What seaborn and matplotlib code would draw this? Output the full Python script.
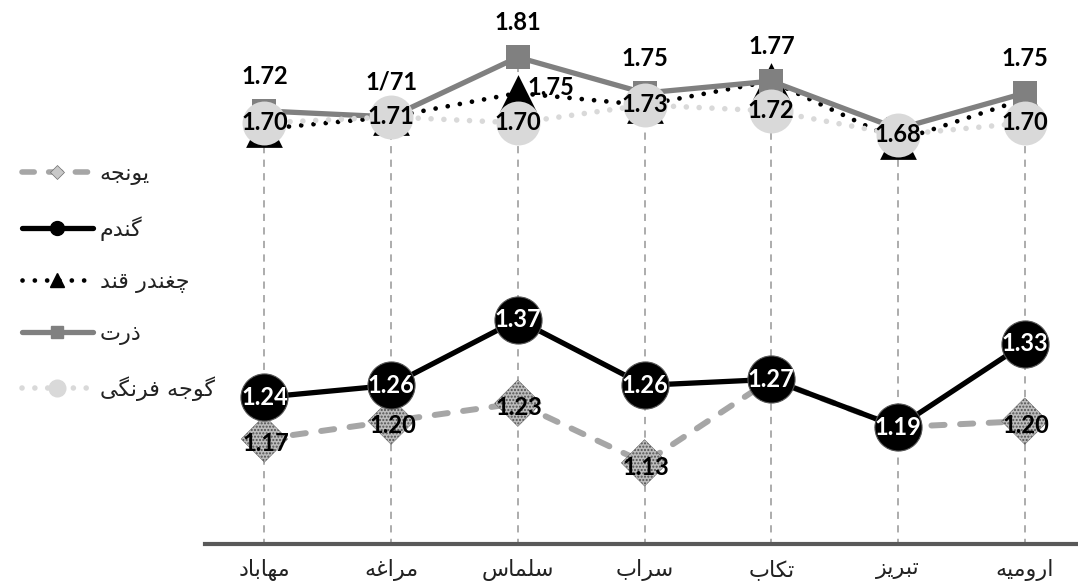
import numpy as np
import pandas as pd
import seaborn as sns
from matplotlib import pyplot as plt
from matplotlib.lines import Line2D

# values
cities = ['مهاباد', 'مراغه', 'سلماس', 'سراب', 'تکاب', 'تبریز', 'ارومیه']
alfalfa = [1.17, 1.20, 1.23, 1.13, 1.27, 1.19, 1.20]
wheat = [1.24, 1.26, 1.37, 1.26, 1.27, 1.19, 1.33]
sugar_beet = [1.69, 1.71, 1.75, 1.73, 1.77, 1.67, 1.74]
corn = [1.72, 1.71, 1.81, 1.75, 1.77, 1.69, 1.75]
tomato = [1.70, 1.71, 1.70, 1.73, 1.72, 1.68, 1.70]
# labels that are visible in the chart (others are hidden behind markers)
alfalfa_labels = ['1.17', '1.20', '1.23', '1.13', '', '', '1.20']
corn_labels = ['1.72', '1/71', '1.81', '1.75', '1.77', '', '1.75']
sugar_labels = ['', '', '1.75', '', '', '', '']
names = ['یونجه', 'گندم', 'چغندر قند', 'ذرت', 'گوجه فرنگی']

# matplotlib has no arabic shaping, so pick presentation forms by hand
# (isolated, final, initial, medial); None = letter does not join forward
FORMS = {
    'ا': ('\uFE8D', '\uFE8E', None, None),
    'ب': ('\uFE8F', '\uFE90', '\uFE91', '\uFE92'),
    'ت': ('\uFE95', '\uFE96', '\uFE97', '\uFE98'),
    'ج': ('\uFE9D', '\uFE9E', '\uFE9F', '\uFEA0'),
    'چ': ('\uFB7A', '\uFB7B', '\uFB7C', '\uFB7D'),
    'د': ('\uFEA9', '\uFEAA', None, None),
    'ذ': ('\uFEAB', '\uFEAC', None, None),
    'ر': ('\uFEAD', '\uFEAE', None, None),
    'ز': ('\uFEAF', '\uFEB0', None, None),
    'س': ('\uFEB1', '\uFEB2', '\uFEB3', '\uFEB4'),
    'غ': ('\uFECD', '\uFECE', '\uFECF', '\uFED0'),
    'ف': ('\uFED1', '\uFED2', '\uFED3', '\uFED4'),
    'ق': ('\uFED5', '\uFED6', '\uFED7', '\uFED8'),
    'ک': ('\uFB8E', '\uFB8F', '\uFB90', '\uFB91'),
    'گ': ('\uFB92', '\uFB93', '\uFB94', '\uFB95'),
    'ل': ('\uFEDD', '\uFEDE', '\uFEDF', '\uFEE0'),
    'م': ('\uFEE1', '\uFEE2', '\uFEE3', '\uFEE4'),
    'ن': ('\uFEE5', '\uFEE6', '\uFEE7', '\uFEE8'),
    'ه': ('\uFEE9', '\uFEEA', '\uFEEB', '\uFEEC'),
    'و': ('\uFEED', '\uFEEE', None, None),
    'ی': ('\uFBFC', '\uFBFD', '\uFBFE', '\uFBFF'),
}


def shape(text):
    out = []
    for i, c in enumerate(text):
        if c not in FORMS:
            out.append(c)
            continue
        iso, fin, ini, med = FORMS[c]
        prev = text[i - 1] if i > 0 else None
        nxt = text[i + 1] if i + 1 < len(text) else None
        jp = prev in FORMS and FORMS[prev][2] is not None
        jn = ini is not None and nxt in FORMS
        if jp and jn:
            out.append(med)
        elif jp:
            out.append(fin)
        elif jn:
            out.append(ini)
        else:
            out.append(iso)
    return ''.join(reversed(out))


sns.set_style('white')
plt.rcParams['font.family'] = ['DejaVu Sans']

LBL = dict(ha='center', va='center', fontsize=17, fontweight='bold', family='Lato')

x = np.arange(len(cities))
df = pd.DataFrame({'x': x, 'alfalfa': alfalfa, 'wheat': wheat,
                   'sugar_beet': sugar_beet, 'corn': corn, 'tomato': tomato})

fig = plt.figure(figsize=(10.78, 5.86), dpi=100)
ax = fig.add_axes([0.19, 0.0717, 0.81, 0.9283])

# drop lines from the highest point of each category
top = df[['alfalfa', 'wheat', 'sugar_beet', 'corn', 'tomato']].max(axis=1)
ax.vlines(x, 0.99, top, colors='#a6a6a6', linestyles=(0, (4, 3.5)), lw=1.3, zorder=1)

# alfalfa
sns.lineplot(data=df, x='x', y='alfalfa', ax=ax, color='#a6a6a6', lw=4.3,
             linestyle=(0, (2.2, 2.6)), dash_capstyle='round', zorder=2, legend=False)
ax.scatter(x, alfalfa, marker='D', s=560, facecolor='#bdbdbd', edgecolor='#505050',
           linewidths=0.3, hatch='.....', zorder=2.1)
for xi, v, t in zip(x, alfalfa, alfalfa_labels):
    if t:
        ax.annotate(t, (xi, v), xytext=(1, -3), textcoords='offset points',
                    color='black', zorder=2.2, **LBL)

# wheat
sns.lineplot(data=df, x='x', y='wheat', ax=ax, color='black', lw=3.8, zorder=3,
             legend=False)
sns.scatterplot(data=df, x='x', y='wheat', ax=ax, marker='o', s=1150, color='black',
                edgecolor='#555555', linewidth=0.8, zorder=3.1, legend=False)
for xi, v in zip(x, wheat):
    ax.annotate(f'{v:.2f}', (xi, v), color='white', zorder=3.2, **LBL)

# sugar beet
sns.lineplot(data=df, x='x', y='sugar_beet', ax=ax, color='black', lw=3.4,
             linestyle=(0, (0.01, 2.6)), dash_capstyle='round', zorder=4, legend=False)
sns.scatterplot(data=df, x='x', y='sugar_beet', ax=ax, marker='^', s=700,
                color='black', linewidth=0, zorder=4.1, legend=False)

# corn
sns.lineplot(data=df, x='x', y='corn', ax=ax, color='#808080', lw=3.8, zorder=5,
             legend=False)
sns.scatterplot(data=df, x='x', y='corn', ax=ax, marker='s', s=290, color='#808080',
                linewidth=0, zorder=5.1, legend=False)

# tomato
sns.lineplot(data=df, x='x', y='tomato', ax=ax, color='#d9d9d9', lw=4,
             linestyle=(0, (0.01, 2.3)), dash_capstyle='round', zorder=6, legend=False)
sns.scatterplot(data=df, x='x', y='tomato', ax=ax, marker='o', s=1000, color='#d9d9d9',
                linewidth=0, zorder=6.1, legend=False)
for xi, v in zip(x, tomato):
    ax.annotate(f'{v:.2f}', (xi, v), color='black', zorder=6.2, **LBL)

for xi, v, t in zip(x, corn, corn_labels):
    if t:
        ax.annotate(t, (xi, v), xytext=(0, 25), textcoords='offset points',
                    color='black', zorder=7, **LBL)
for xi, v, t in zip(x, sugar_beet, sugar_labels):
    if t:
        ax.annotate(t, (xi, v), xytext=(24, 4), textcoords='offset points',
                    color='black', zorder=7, **LBL)

ax.set_xlim(-0.47, 6.42)
ax.set_ylim(0.994, 1.906)
ax.set_xticks(x)
ax.set_xticklabels([shape(c) for c in cities], fontsize=16, color='#222222')
ax.set_yticks([])
ax.set_xlabel('')
ax.set_ylabel('')
ax.tick_params(axis='x', length=0, pad=11)
for s in ['left', 'right', 'top']:
    ax.spines[s].set_visible(False)
ax.spines['bottom'].set_color('#595959')
ax.spines['bottom'].set_linewidth(3)

handles = [
    Line2D([], [], color='#a6a6a6', lw=4, linestyle=(0, (2.2, 2.6)), dash_capstyle='round',
           marker='D', ms=7, mfc='#c8c8c8', mec='#707070', mew=0.5),
    Line2D([], [], color='black', lw=3.8, marker='o', ms=10, mfc='black', mec='black'),
    Line2D([], [], color='black', lw=3.4, linestyle=(0, (0.01, 2.6)), dash_capstyle='round',
           marker='^', ms=10, mfc='black', mec='black'),
    Line2D([], [], color='#808080', lw=3.8, marker='s', ms=8, mfc='#808080', mec='#808080'),
    Line2D([], [], color='#d9d9d9', lw=4, linestyle=(0, (0.01, 2.3)), dash_capstyle='round',
           marker='o', ms=12, mfc='#d9d9d9', mec='#d9d9d9'),
]
fig.legend(handles, [shape(n) for n in names], loc='upper left',
           bbox_to_anchor=(0.012, 0.735), frameon=False, borderaxespad=0,
           fontsize=16, handlelength=3.2, handletextpad=0.3, labelspacing=1.4,
           labelcolor='#222222')

fig.savefig('out.png', dpi=100)
